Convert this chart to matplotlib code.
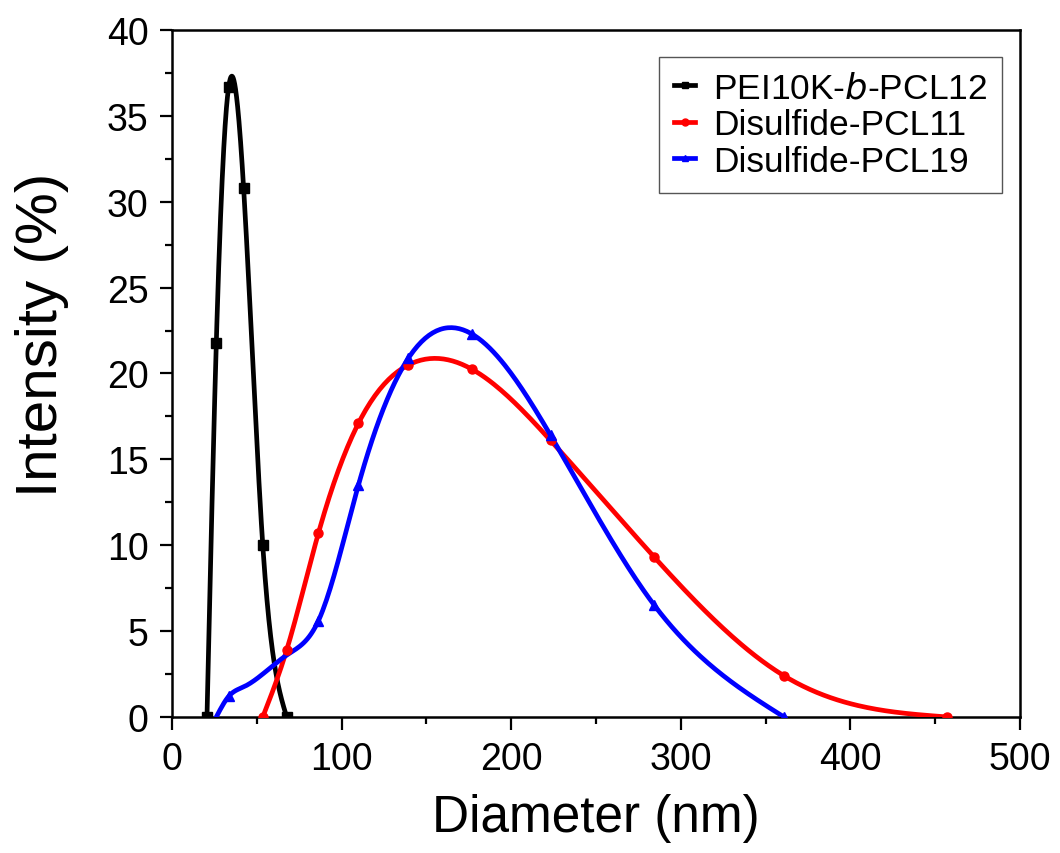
import numpy as np
import matplotlib
matplotlib.use("Agg")
import matplotlib.pyplot as plt
from matplotlib.ticker import MultipleLocator

plt.rcParams["font.family"] = ["Liberation Sans", "DejaVu Sans"]

# DLS size distributions
pei_d = [20.6, 26.1, 33.4, 42.2, 53.5, 67.6]
pei_i = [0.0, 21.8, 36.7, 30.8, 10.0, 0.0]

pcl11_d = [53.5, 67.6, 86.3, 109.9, 139.4, 176.8, 223.2, 284.4, 360.8, 457.1]
pcl11_i = [0.0, 3.9, 10.7, 17.1, 20.5, 20.25, 16.1, 9.3, 2.4, 0.0]

pcl19_d = [26.1, 33.4, 42.2, 53.5, 67.6, 86.3, 109.9, 139.4, 176.8, 223.2, 284.4, 360.8]
pcl19_i = [0.0, 1.2, 1.75, 2.5, 3.6, 5.6, 13.5, 20.9, 22.3, 16.4, 6.5, 0.0]
pcl19_marks = [1, 5, 6, 7, 8, 9, 10, 11]

labels = ["PEI10K-$\\it{b}$-PCL12", "Disulfide-PCL11", "Disulfide-PCL19"]


def spline(x, y, n=300):
    # natural cubic spline, like Origin's "Spline" line connection
    x = np.asarray(x, float)
    y = np.asarray(y, float)
    k = len(x)
    h = np.diff(x)
    A = np.zeros((k, k))
    b = np.zeros(k)
    A[0, 0] = A[-1, -1] = 1
    for i in range(1, k - 1):
        A[i, i - 1] = h[i - 1]
        A[i, i] = 2 * (h[i - 1] + h[i])
        A[i, i + 1] = h[i]
        b[i] = 6 * ((y[i + 1] - y[i]) / h[i] - (y[i] - y[i - 1]) / h[i - 1])
    m = np.linalg.solve(A, b)
    xs = np.linspace(x[0], x[-1], n)
    j = np.clip(np.searchsorted(x, xs) - 1, 0, k - 2)
    t0 = x[j + 1] - xs
    t1 = xs - x[j]
    hj = h[j]
    ys = (m[j] * t0 ** 3 + m[j + 1] * t1 ** 3) / (6 * hj) \
        + (y[j] / hj - m[j] * hj / 6) * t0 + (y[j + 1] / hj - m[j + 1] * hj / 6) * t1
    return xs, ys


fig, ax = plt.subplots(figsize=(10.6, 8.54), dpi=100)
fig.subplots_adjust(left=0.1623, right=0.9623, bottom=0.1593, top=0.9637)

series = [
    (pei_d, pei_i, "black", "s", None, labels[0]),
    (pcl11_d, pcl11_i, "#ff0000", "o", None, labels[1]),
    (pcl19_d, pcl19_i, "#0000ff", "^", pcl19_marks, labels[2]),
]

for d, inten, col, mk, every, lab in series:
    xs, ys = spline(d, inten)
    ax.plot(xs, ys, color=col, lw=3.4, zorder=3)
    idx = every if every is not None else range(len(d))
    ax.plot([d[i] for i in idx], [inten[i] for i in idx], ls="none",
            marker=mk, ms=6.5, color=col, zorder=4)
    # legend proxy
    ax.plot([], [], color=col, lw=3.4, marker=mk, ms=5, label=lab)

ax.set_xlim(0, 500)
ax.set_ylim(0, 40)
ax.xaxis.set_major_locator(MultipleLocator(100))
ax.xaxis.set_minor_locator(MultipleLocator(50))
ax.yaxis.set_major_locator(MultipleLocator(5))
ax.yaxis.set_minor_locator(MultipleLocator(2.5))

ax.tick_params(which="both", direction="out", width=1.6, top=False, right=False)
ax.tick_params(which="major", length=9, labelsize=27, pad=8)
ax.tick_params(which="minor", length=5)
for sp in ax.spines.values():
    sp.set_linewidth(1.8)

ax.set_xlabel("Diameter (nm)", fontsize=37, labelpad=12)
ax.set_ylabel("Intensity (%)", fontsize=42)
ax.yaxis.set_label_coords(-0.122, 0.558)

leg = ax.legend(loc="upper right", bbox_to_anchor=(0.979, 0.961), borderaxespad=0,
                fontsize=25.5, handlelength=0.6, handletextpad=0.5, labelspacing=0.1,
                borderpad=0.42, fancybox=False, framealpha=1, edgecolor="#555555")
leg.get_frame().set_linewidth(1.0)

fig.savefig("out.png", dpi=100)
